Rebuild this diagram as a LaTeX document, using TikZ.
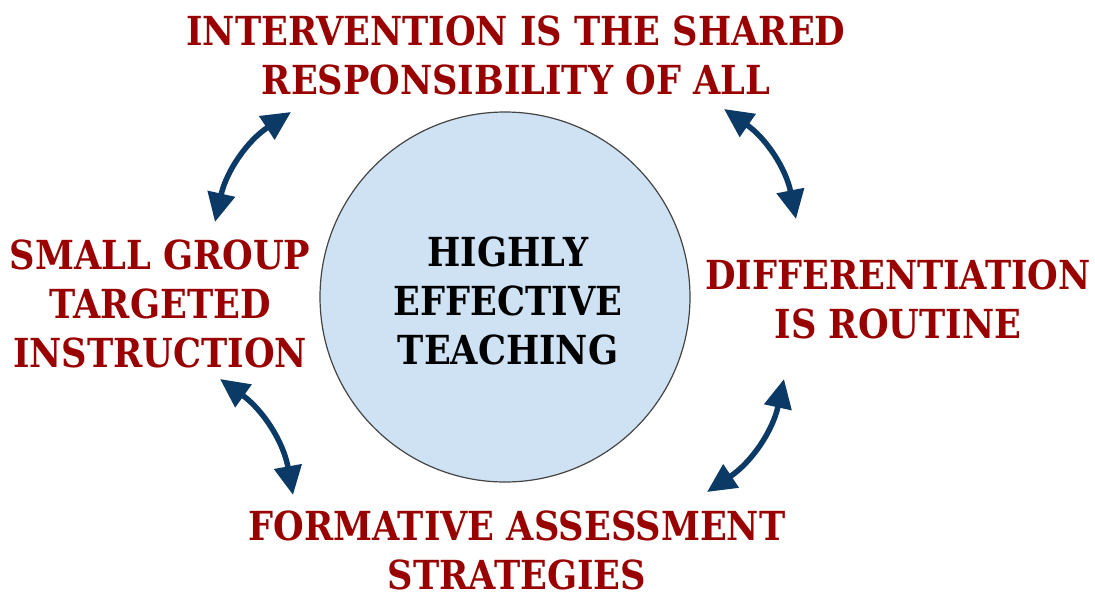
\documentclass[tikz,border=0pt]{standalone}
\usepackage{fontspec}
\usetikzlibrary{arrows.meta}
\newfontfamily\slab{DejaVu Serif}[FakeStretch=0.88]
\definecolor{lblred}{HTML}{990000}
\definecolor{arrblue}{HTML}{0B3A66}
\definecolor{circfill}{HTML}{CFE2F3}
\definecolor{circline}{HTML}{444444}
\tikzset{
  lbl/.style={font=\slab\bfseries\fontsize{40}{49}\selectfont, text=lblred, align=center, inner sep=0pt},
  ctr/.style={font=\slab\bfseries\fontsize{40}{49}\selectfont, text=black, align=center, inner sep=0pt},
  cyc/.style={draw=arrblue, line width=5.5pt, {Triangle[length=29pt,width=27pt]}-{Triangle[length=29pt,width=27pt]}},
}
\begin{document}
\begin{tikzpicture}[x=1pt,y=-1pt]
\useasboundingbox (0,0) rectangle (1095,595);
\node[circle, draw=circline, line width=1.2pt, fill=circfill, minimum size=370pt, inner sep=0pt] (hub) at (505,297) {};
\node[ctr] (core) at (508,301) {HIGHLY\\EFFECTIVE\\TEACHING};
\node[lbl] (top) at (516,55) {INTERVENTION IS THE SHARED\\RESPONSIBILITY OF ALL};
\node[lbl] (left) at (160,304) {SMALL GROUP\\TARGETED\\INSTRUCTION};
\node[lbl] (right) at (898,299) {DIFFERENTIATION\\IS ROUTINE};
\node[lbl] (bottom) at (517,550) {FORMATIVE ASSESSMENT\\STRATEGIES};
\coordinate (tlA) at (215,222);
\coordinate (tlB) at (291,112);
\coordinate (trA) at (724,109);
\coordinate (trB) at (796,219);
\coordinate (blA) at (220,379);
\coordinate (blB) at (293,495);
\coordinate (brA) at (784,379);
\coordinate (brB) at (707,492);
\draw[cyc] (tlA) to[bend left=22] (tlB);
\draw[cyc] (trA) to[bend left=22] (trB);
\draw[cyc] (blA) to[bend left=22] (blB);
\draw[cyc] (brA) to[bend left=22] (brB);
\end{tikzpicture}
\end{document}
